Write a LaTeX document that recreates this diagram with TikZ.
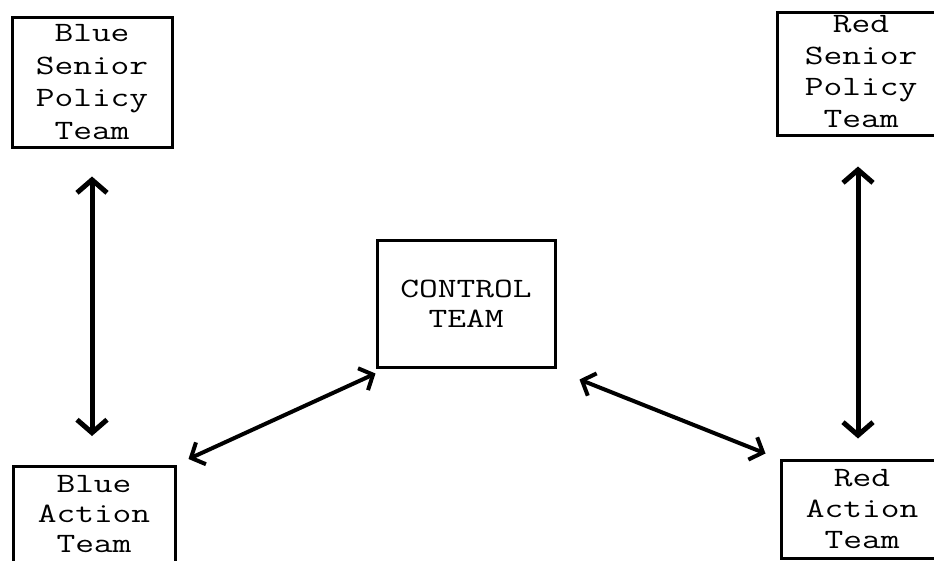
\documentclass[tikz,border=0pt]{standalone}
\usepackage{graphicx}
\usetikzlibrary{arrows.meta}
\newcommand\tw[1]{\scalebox{1.3}[1]{#1}}
\newcommand\xdepth[1]{\rule[-#1]{0pt}{#1}}
\begin{document}
\begin{tikzpicture}[x=1pt,y=-1pt,
  box/.style={draw, line width=3pt, rectangle, align=center, inner sep=0pt,
    font=\ttfamily\fontsize{28}{32.5}\selectfont},
  vlink/.style={line width=5pt,
    {Straight Barb[length=13pt,width=30pt]}-{Straight Barb[length=13pt,width=30pt]}},
  dlink/.style={line width=4pt,
    {Straight Barb[length=11pt,width=24pt]}-{Straight Barb[length=11pt,width=24pt]}}]
\useasboundingbox (0,0) rectangle (934,560);
\clip (0,0) rectangle (934,560);
\fill[white] (0,0) rectangle (934,560);
\node[box, minimum width=160pt, minimum height=130pt] (bsp) at (92,82)
  {\tw{Blue}\\\tw{Senior}\\\tw{Policy}\\\tw{Team}};
\node[box, minimum width=168pt, minimum height=123pt, font=\ttfamily\fontsize{28}{31.7}\selectfont] (rsp) at (861,73.5)
  {\tw{Red}\\\tw{Senior}\\\tw{Policy}\\\tw{Team}\xdepth{4pt}};
\node[box, minimum width=178pt, minimum height=127pt, font=\ttfamily\fontsize{28}{30}\selectfont] (ctl) at (466,303.5)
  {\tw{CONTROL}\\\tw{TEAM}};
\node[box, minimum width=162pt, minimum height=96pt, font=\ttfamily\fontsize{28}{30}\selectfont] (bat) at (94,514.5)
  {\tw{Blue}\\\tw{Action}\\\tw{Team}};
\node[box, minimum width=162pt, minimum height=98pt, font=\ttfamily\fontsize{28}{31}\selectfont] (rat) at (862,509)
  {\tw{Red}\\\tw{Action}\\\tw{Team}};
\draw[vlink, shorten <=28pt, shorten >=29pt] (bsp.south) -- (bsp.south |- bat.north);
\draw[vlink, shorten <=30pt, shorten >=20pt] ([xshift=-3pt]rsp.south) -- ([xshift=-3pt]rsp.south |- rat.north);
\draw[dlink] ([shift={(12,-6)}]bat.north east) -- ([shift={(0,5)}]ctl.south west);
\draw[dlink] ([shift={(23,11)}]ctl.south east) -- ([shift={(-14,-5)}]rat.north west);
\end{tikzpicture}
\end{document}
